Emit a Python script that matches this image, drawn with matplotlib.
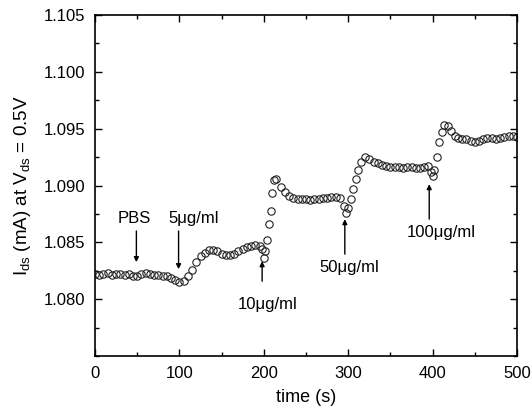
import matplotlib
matplotlib.use('Agg')
import matplotlib.pyplot as plt
from matplotlib.ticker import MultipleLocator

plt.rcParams['font.family'] = ['Liberation Sans', 'DejaVu Sans']
plt.rcParams['mathtext.fontset'] = 'custom'
plt.rcParams['mathtext.rm'] = 'Liberation Sans'
plt.rcParams['mathtext.it'] = 'Liberation Sans:italic'

# time (s) and drain current (mA)
time_s = [0, 5, 10, 15, 20, 25, 30, 35, 40, 45, 50, 55, 60, 65, 70, 75, 80, 85, 90, 95,
          100, 105, 110, 115, 120, 125, 130, 135, 140, 145, 150, 155, 160, 165, 170, 175,
          180, 185, 190, 195, 198, 200, 202, 204, 206, 208, 210, 212, 215, 220, 225, 230,
          235, 240, 245, 250, 255, 260, 265, 270, 275, 280, 285, 290, 295, 297, 300, 303,
          306, 309, 312, 315, 320, 325, 330, 335, 340, 345, 350, 355, 360, 365, 370, 375,
          380, 385, 390, 395, 398, 400, 402, 405, 408, 411, 414, 418, 422, 426, 430, 435,
          440, 445, 450, 455, 460, 465, 470, 475, 480, 485, 490, 495, 500]
ids = [1.0822, 1.0821, 1.0822, 1.0823, 1.0821, 1.0822, 1.0822, 1.0821, 1.0822, 1.0820,
       1.0820, 1.0822, 1.0823, 1.0822, 1.0821, 1.0821, 1.0820, 1.0820, 1.0819, 1.0817,
       1.0815, 1.0816, 1.0820, 1.0826, 1.0833, 1.0838, 1.0841, 1.0843, 1.0843, 1.0842,
       1.0840, 1.0839, 1.0839, 1.0840, 1.0842, 1.0844, 1.0846, 1.0847, 1.0848, 1.0847,
       1.0844, 1.0836, 1.0842, 1.0852, 1.0866, 1.0878, 1.0893, 1.0905, 1.0906, 1.0899,
       1.0894, 1.0891, 1.0889, 1.0888, 1.0888, 1.0888, 1.0887, 1.0888, 1.0888, 1.0889,
       1.0889, 1.0890, 1.0890, 1.0889, 1.0882, 1.0876, 1.0880, 1.0888, 1.0897, 1.0906,
       1.0914, 1.0921, 1.0925, 1.0923, 1.0921, 1.0920, 1.0918, 1.0917, 1.0916, 1.0916,
       1.0916, 1.0915, 1.0916, 1.0916, 1.0915, 1.0915, 1.0916, 1.0917, 1.0912, 1.0908,
       1.0914, 1.0925, 1.0938, 1.0947, 1.0953, 1.0952, 1.0948, 1.0944, 1.0942, 1.0941,
       1.0941, 1.0939, 1.0938, 1.0939, 1.0941, 1.0942, 1.0942, 1.0941, 1.0942, 1.0943,
       1.0944, 1.0944, 1.0943]

# annotations: label, text pos, arrow tail, arrow tip
labels = ['PBS', '5\u03bcg/ml', '10\u03bcg/ml', '50\u03bcg/ml', '100\u03bcg/ml']
label_xy = [(46, 1.0871), (117, 1.0871), (204, 1.07956), (301, 1.08282), (410, 1.0859)]
arrow_from = [(49, 1.0860), (99, 1.0860), (198, 1.08158), (296, 1.08396), (396, 1.08704)]
arrow_to = [(49, 1.08326), (99, 1.08264), (198, 1.08334), (296, 1.08704), (396, 1.09012)]

fig = plt.figure(figsize=(5.32, 4.16), dpi=100)
ax = fig.add_axes([0.1786, 0.1442, 0.7932, 0.8197])

ax.plot(time_s, ids, 'o', mfc='none', mec='#222222', ms=5.3, mew=0.8)

for lab, txy, a0, a1 in zip(labels, label_xy, arrow_from, arrow_to):
    ax.text(txy[0], txy[1], lab, ha='center', va='center', fontsize=12)
    ax.annotate('', xy=a1, xytext=a0,
                arrowprops=dict(arrowstyle='-|>', color='black', lw=1.0,
                                mutation_scale=7, shrinkA=0, shrinkB=0))

ax.set_xlim(0, 500)
ax.set_ylim(1.075, 1.105)
ax.set_yticks([1.080, 1.085, 1.090, 1.095, 1.100, 1.105])
ax.set_yticklabels(['1.080', '1.085', '1.090', '1.095', '1.100', '1.105'])
ax.xaxis.set_major_locator(MultipleLocator(100))
ax.xaxis.set_minor_locator(MultipleLocator(50))
ax.yaxis.set_minor_locator(MultipleLocator(0.0025))
ax.tick_params(which='both', direction='in', top=True, right=True, labelsize=12, width=1.0)
ax.tick_params(which='major', length=5, pad=7)
ax.tick_params(which='minor', length=3)
for s in ax.spines.values():
    s.set_linewidth(1.2)

ax.set_xlabel('time (s)', fontsize=13, labelpad=6)
ax.set_ylabel(r'I$_{\rm ds}$ (mA) at V$_{\rm ds}$ = 0.5V', fontsize=13.5, labelpad=8)

fig.savefig('out.png', dpi=100)
